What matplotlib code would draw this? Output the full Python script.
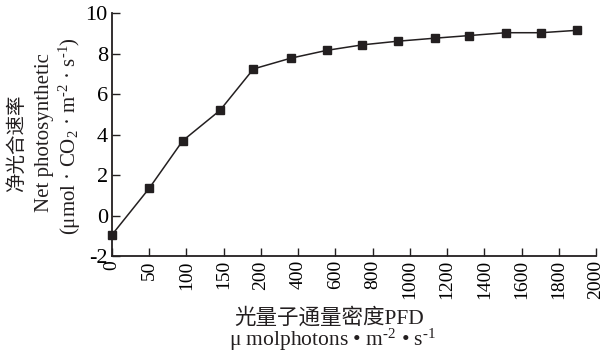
import numpy as np
import matplotlib
matplotlib.use("Agg")
import matplotlib.pyplot as plt

# light intensity (PFD) and net photosynthetic rate
pfd = [0, 50, 95, 145, 190, 360, 555, 745, 935, 1135, 1320, 1515, 1705, 1900]
pn = [-0.95, 1.35, 3.7, 5.2, 7.25, 7.78, 8.17, 8.44, 8.62, 8.77, 8.9, 9.04, 9.04, 9.16]

xticks = [0, 50, 100, 150, 200, 400, 600, 800, 1000, 1200, 1400, 1600, 1800, 2000]
yticks = [-2, 0, 2, 4, 6, 8, 10]

plt.rcParams['font.family'] = ['Liberation Serif', 'Noto Sans CJK SC']
plt.rcParams['mathtext.fontset'] = 'custom'
plt.rcParams['mathtext.rm'] = 'Liberation Serif'
plt.rcParams['mathtext.it'] = 'Liberation Serif'

# x axis is evenly spaced per tick, not linear in PFD
idx = np.arange(len(xticks))
def fwd(x):
    return np.interp(x, xticks, idx)
def inv(i):
    return np.interp(i, idx, xticks)

fig = plt.figure(figsize=(6.02, 3.52), dpi=100)
ax = fig.add_axes([112/602, 1-256/352, (596-112)/602, (256-13.3)/352])
ax.set_xscale('function', functions=(fwd, inv))

ax.plot(pfd, pn, '-', color='#231f20', lw=1.1, marker='s', ms=6,
        mfc='#231f20', mec='#231f20', clip_on=False, zorder=3)

ax.set_xlim(0, 2000)
ax.set_ylim(-2, 10)
ax.set_xticks(xticks)
ax.set_xticklabels([str(t) for t in xticks], rotation=90, fontsize=14)
ax.set_yticks(yticks)
ax.set_yticklabels([str(t) for t in yticks], fontsize=16)
ax.minorticks_off()

for s in ['top', 'right']:
    ax.spines[s].set_visible(False)
for s in ['left', 'bottom']:
    ax.spines[s].set_linewidth(1.3)
    ax.spines[s].set_color('#231f20')
ax.tick_params(axis='both', direction='in', length=5.5, width=1, color='#231f20', pad=3)

# y label, three lines
fig.text(17/602, 1-143/352, '净光合速率', rotation=90, ha='center', va='center',
         fontsize=14, family=['Noto Sans CJK SC'], color='#231f20')
fig.text(44/602, 1-133/352, 'Net photosynthetic', rotation=90, ha='center', va='center',
         fontsize=15, color='#231f20')
fig.text(70/602, 1-136/352, r'(μmol · CO$_2$ · m$^{\text{-2}}$ · s$^{\text{-1}}$)', rotation=90,
         ha='center', va='center', fontsize=15, color='#231f20')

# x label, two lines
fig.text(329/602, 1-318/352, '光量子通量密度PFD', ha='center', va='center',
         fontsize=15.5, color='#231f20')
fig.text(333/602, 1-340/352, r'μ molphotons • m$^{\text{-2}}$ • s$^{\text{-1}}$', ha='center', va='center',
         fontsize=15.5, color='#231f20')

fig.savefig('out.png', dpi=100)
